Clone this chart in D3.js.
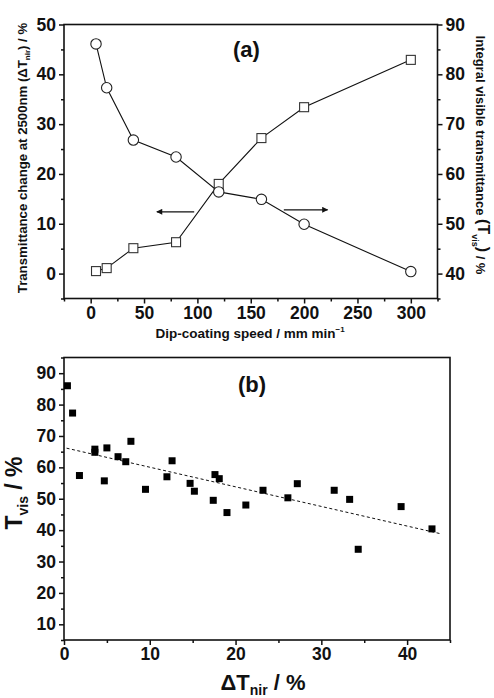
<!DOCTYPE html>
<html>
<head>
<meta charset="utf-8">
<script src="https://cdn.jsdelivr.net/npm/d3@7"></script>
<style>
    html, body { margin: 0; padding: 0; background: #fff; }
    svg { display: block; font-family: 'Liberation Sans', Arial, sans-serif; }
</style>
</head>
<body>
<div id="chart"></div>
<script>
// Panel (a): dip-coating speed series
const speeds = [5, 15, 40, 80, 120, 160, 200, 300];
const deltaTnir = [0.5, 1.1, 5.1, 6.3, 18.0, 27.2, 33.4, 42.9];
const tVis = [86.1, 77.3, 66.8, 63.4, 56.4, 54.9, 49.9, 40.4];

// Panel (b): T_vis versus delta T_nir scatter
const scatterDT = [0.4, 1.0, 1.8, 3.6, 3.6, 4.7, 5.0, 6.3, 7.2, 7.8, 9.5, 12.0, 12.6, 14.7,
    15.2, 17.4, 17.6, 18.1, 19.0, 21.2, 23.2, 26.1, 27.2, 31.5, 33.3, 34.3, 39.3, 42.9];
const scatterTvis = [86.0, 77.3, 57.4, 65.8, 64.8, 55.7, 66.2, 63.4, 61.8, 68.3, 53.0, 57.0, 62.1, 54.9,
    52.4, 49.5, 57.7, 56.4, 45.6, 48.0, 52.7, 50.3, 54.8, 52.7, 49.8, 33.9, 47.5, 40.4];

// Linear fit shown as dashed line
const fitIntercept = 66.3;
const fitSlope = -0.625;
const fitRange = [0.3, 43.8];

// Arrows in panel (a): x start, x end, level on left axis
const arrowFrom = [97, 181];
const arrowTo = [62, 222];
const arrowLevel = [12.4, 12.8];

// Tick values
const xTicksA = [0, 50, 100, 150, 200, 250, 300];
const xMinorA = [-25, 25, 75, 125, 175, 225, 275, 325];
const yTicksA = [0, 10, 20, 30, 40, 50];
const yMinorA = [-5, 5, 15, 25, 35, 45];
const y2TicksA = [40, 50, 60, 70, 80, 90];
const y2MinorA = [35, 45, 55, 65, 75, 85];
const xTicksB = [0, 10, 20, 30, 40];
const xMinorB = [5, 15, 25, 35, 45];
const yTicksB = [10, 20, 30, 40, 50, 60, 70, 80, 90];
const yMinorB = [5, 15, 25, 35, 45, 55, 65, 75, 85, 95];

(function() {
    'use strict';

    const W = 494, H = 698;
    const INK = '#111';
    const TICK_FONT = 17.5;

    const svg = d3.select('#chart').append('svg')
        .attr('width', W)
        .attr('height', H);

    svg.append('rect').attr('width', W).attr('height', H).attr('fill', '#fff');

    // arrowhead
    svg.append('defs').append('marker')
        .attr('id', 'arrow')
        .attr('viewBox', '0 0 10 10')
        .attr('refX', 9).attr('refY', 5)
        .attr('markerWidth', 9).attr('markerHeight', 6)
        .attr('markerUnits', 'userSpaceOnUse')
        .attr('orient', 'auto')
        .append('path')
        .attr('d', 'M0,0 L10,5 L0,10 Z')
        .attr('fill', INK);

    // axis helper: major ticks with labels + minor ticks without
    function drawAxis(axisFn, scale, pos, major, minor) {
        const tr = (axisFn === d3.axisBottom) ? `translate(0,${pos})` : `translate(${pos},0)`;

        const gMinor = svg.append('g').attr('transform', tr)
            .call(axisFn(scale).tickValues(minor).tickSize(3).tickFormat(''));
        gMinor.select('.domain').remove();

        const gMajor = svg.append('g').attr('transform', tr)
            .call(axisFn(scale).tickValues(major).tickSize(5).tickPadding(3)
                .tickFormat(d3.format('d')));
        gMajor.select('.domain').remove();

        [gMinor, gMajor].forEach(g => {
            g.selectAll('line').attr('stroke', INK).attr('stroke-width', 1.5);
            g.selectAll('text')
                .attr('fill', INK)
                .style('font-family', "'Liberation Sans', Arial, sans-serif")
                .style('font-weight', 'bold')
                .style('font-size', TICK_FONT + 'px');
        });
        return gMajor;
    }

    function frame(x, y) {
        svg.append('rect')
            .attr('x', x.range()[0]).attr('y', y.range()[1])
            .attr('width', x.range()[1] - x.range()[0])
            .attr('height', y.range()[0] - y.range()[1])
            .attr('fill', 'none')
            .attr('stroke', INK)
            .attr('stroke-width', 1.6);
    }

    // ---------- Panel (a) ----------
    const xA = d3.scaleLinear().domain([-25, 325]).range([64, 437.5]);
    const yA = d3.scaleLinear().domain([-5, 50]).range([298.5, 24.5]);
    const yA2 = d3.scaleLinear().domain([35, 90]).range([298.5, 24.5]);

    drawAxis(d3.axisBottom, xA, 298.5, xTicksA, xMinorA);
    drawAxis(d3.axisLeft, yA, 64, yTicksA, yMinorA);
    drawAxis(d3.axisRight, yA2, 437.5, y2TicksA, y2MinorA);
    frame(xA, yA);

    // squares: delta T_nir on left axis
    const sqData = speeds.map((s, i) => ({ x: s, y: deltaTnir[i] }));
    const ciData = speeds.map((s, i) => ({ x: s, y: tVis[i] }));

    svg.append('path')
        .datum(sqData)
        .attr('fill', 'none')
        .attr('stroke', INK)
        .attr('stroke-width', 1.1)
        .attr('d', d3.line().x(d => xA(d.x)).y(d => yA(d.y)));

    const SQ = 9;
    svg.append('g').selectAll('rect')
        .data(sqData)
        .join('rect')
        .attr('x', d => xA(d.x) - SQ / 2)
        .attr('y', d => yA(d.y) - SQ / 2)
        .attr('width', SQ).attr('height', SQ)
        .attr('fill', '#fff')
        .attr('stroke', '#333')
        .attr('stroke-width', 1.1);

    // circles: T_vis on right axis
    svg.append('path')
        .datum(ciData)
        .attr('fill', 'none')
        .attr('stroke', INK)
        .attr('stroke-width', 1.1)
        .attr('d', d3.line().x(d => xA(d.x)).y(d => yA2(d.y)));

    svg.append('g').selectAll('circle')
        .data(ciData)
        .join('circle')
        .attr('cx', d => xA(d.x))
        .attr('cy', d => yA2(d.y))
        .attr('r', 5.2)
        .attr('fill', '#fff')
        .attr('stroke', '#222')
        .attr('stroke-width', 1.1);

    // arrows pointing to the axis of each series
    arrowFrom.forEach((x0, i) => {
        svg.append('line')
            .attr('x1', xA(x0)).attr('x2', xA(arrowTo[i]))
            .attr('y1', yA(arrowLevel[i])).attr('y2', yA(arrowLevel[i]))
            .attr('stroke', INK)
            .attr('stroke-width', 1.2)
            .attr('marker-end', 'url(#arrow)');
    });

    svg.append('text')
        .attr('x', 246.5).attr('y', 57)
        .attr('text-anchor', 'middle')
        .style('font-size', '22px').style('font-weight', 'bold')
        .attr('fill', INK)
        .text('(a)');

    // x title (a)
    const xtA = svg.append('text')
        .attr('x', 250).attr('y', 338)
        .attr('text-anchor', 'middle')
        .style('font-size', '13.5px').style('font-weight', 'bold')
        .attr('fill', INK);
    xtA.append('tspan').text('Dip-coating speed / mm min');
    xtA.append('tspan').attr('dy', -6).style('font-size', '8px').text('\u22121');

    // left y title (a)
    const ytA = svg.append('text')
        .attr('transform', 'translate(27,158) rotate(-90)')
        .attr('text-anchor', 'middle')
        .style('font-size', '13.2px').style('font-weight', 'bold')
        .attr('fill', INK);
    ytA.append('tspan').text('Transmittance change at 2500nm (\u0394T');
    ytA.append('tspan').attr('dy', 3).style('font-size', '8px').text('nir');
    ytA.append('tspan').attr('dy', -3).text(') / %');

    // right y title (a)
    const yt2A = svg.append('text')
        .attr('transform', 'translate(476,155) rotate(90)')
        .attr('text-anchor', 'middle')
        .style('font-size', '13px').style('font-weight', 'bold')
        .attr('fill', INK);
    yt2A.append('tspan').text('Integral visible transmittance ');
    yt2A.append('tspan').attr('dy', -2).style('font-size', '16px').text('(T');
    yt2A.append('tspan').attr('dy', 6).style('font-size', '9px').text('vis');
    yt2A.append('tspan').attr('dy', -6).style('font-size', '16px').text(')');
    yt2A.append('tspan').attr('dy', 2).text(' / %');

    // ---------- Panel (b) ----------
    const xB = d3.scaleLinear().domain([0, 45]).range([64, 450]);
    const yB = d3.scaleLinear().domain([5, 95]).range([640, 357.5]);

    drawAxis(d3.axisBottom, xB, 640, xTicksB, xMinorB);
    drawAxis(d3.axisLeft, yB, 64, yTicksB, yMinorB);
    frame(xB, yB);

    // dashed fit line
    svg.append('line')
        .attr('x1', xB(fitRange[0])).attr('y1', yB(fitIntercept + fitSlope * fitRange[0]))
        .attr('x2', xB(fitRange[1])).attr('y2', yB(fitIntercept + fitSlope * fitRange[1]))
        .attr('stroke', INK)
        .attr('stroke-width', 1)
        .attr('stroke-dasharray', '3,2.5');

    const PT = 7;
    svg.append('g').selectAll('rect')
        .data(scatterDT.map((x, i) => ({ x: x, y: scatterTvis[i] })))
        .join('rect')
        .attr('x', d => xB(d.x) - PT / 2)
        .attr('y', d => yB(d.y) - PT / 2)
        .attr('width', PT).attr('height', PT)
        .attr('fill', '#000');

    svg.append('text')
        .attr('x', 252).attr('y', 392)
        .attr('text-anchor', 'middle')
        .style('font-size', '22px').style('font-weight', 'bold')
        .attr('fill', INK)
        .text('(b)');

    // x title (b)
    const xtB = svg.append('text')
        .attr('x', 263).attr('y', 690)
        .attr('text-anchor', 'middle')
        .style('font-size', '22px').style('font-weight', 'bold')
        .attr('fill', INK);
    xtB.append('tspan').text('\u0394T');
    xtB.append('tspan').attr('dy', 5).style('font-size', '14px').text('nir');
    xtB.append('tspan').attr('dy', -5).text(' / %');

    // y title (b)
    const ytB = svg.append('text')
        .attr('transform', 'translate(22,493) rotate(-90)')
        .attr('text-anchor', 'middle')
        .style('font-size', '23px').style('font-weight', 'bold')
        .attr('fill', INK);
    ytB.append('tspan').text('T');
    ytB.append('tspan').attr('dy', 6).style('font-size', '14px').text('vis');
    ytB.append('tspan').attr('dy', -6).text(' / %');
})();
</script>
</body>
</html>
